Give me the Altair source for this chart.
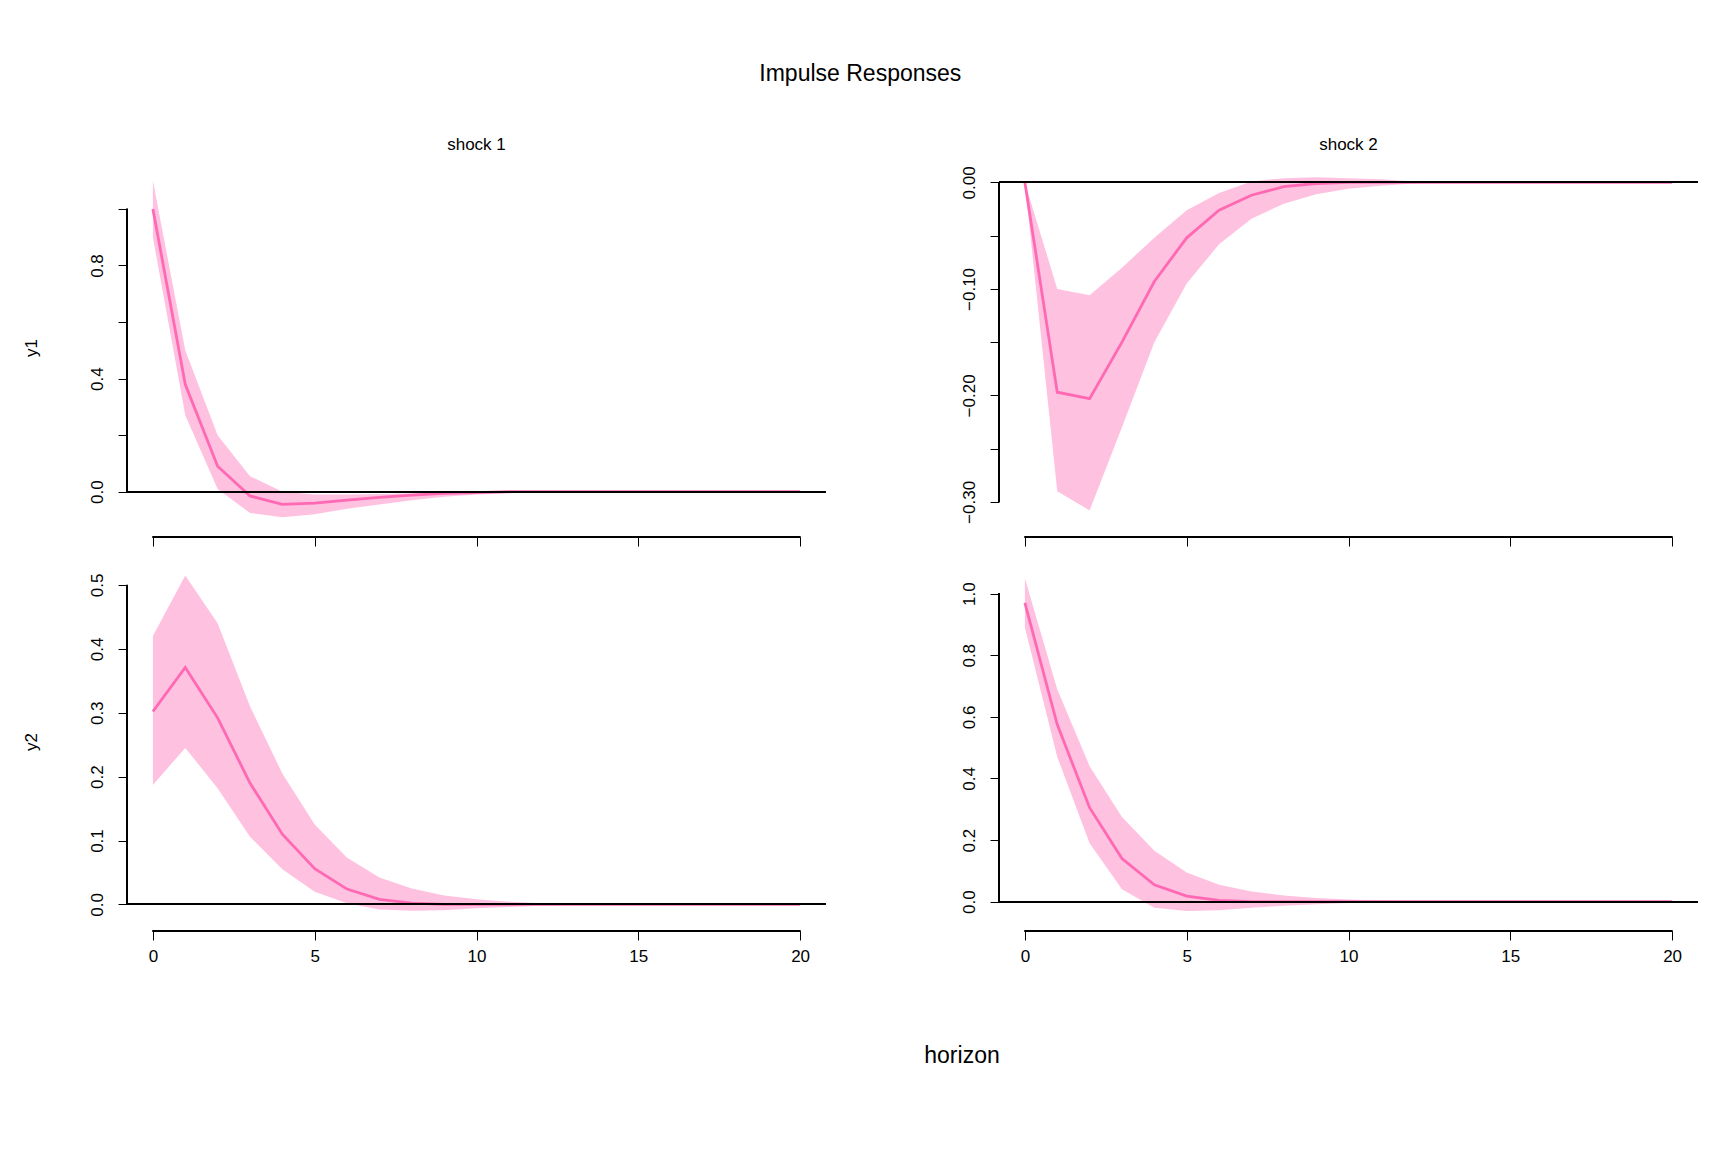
import altair as alt
import pandas as pd

H = list(range(21))

# response of y1 to shock 1
y1s1_med = [1.0, 0.38, 0.09, -0.015, -0.045, -0.04, -0.03, -0.02, -0.012, -0.006, -0.003] + [0.0] * 10
y1s1_hi = [1.1, 0.5, 0.2, 0.055, 0.0, -0.01, -0.01, -0.008, -0.005, -0.002] + [0.0] * 11
y1s1_lo = [0.9, 0.27, 0.01, -0.075, -0.09, -0.08, -0.06, -0.045, -0.03, -0.018, -0.01, -0.005, -0.002] + [0.0] * 8

# response of y1 to shock 2
y1s2_med = [0.0, -0.197, -0.203, -0.15, -0.093, -0.052, -0.026, -0.012, -0.004, -0.001] + [0.0] * 11
y1s2_hi = [0.0, -0.1, -0.106, -0.08, -0.052, -0.026, -0.01, 0.001, 0.004, 0.005, 0.004, 0.003, 0.001] + [0.0] * 8
y1s2_lo = [0.0, -0.29, -0.308, -0.23, -0.15, -0.095, -0.058, -0.034, -0.02, -0.011, -0.006, -0.003, -0.001] + [0.0] * 8

# response of y2 to shock 1
y2s1_med = [0.302, 0.371, 0.292, 0.19, 0.11, 0.056, 0.024, 0.008, 0.002] + [0.0] * 12
y2s1_hi = [0.42, 0.515, 0.44, 0.31, 0.205, 0.125, 0.073, 0.042, 0.025, 0.014, 0.008, 0.004, 0.002, 0.001] + [0.0] * 7
y2s1_lo = [0.187, 0.245, 0.182, 0.106, 0.055, 0.02, 0.002, -0.008, -0.01, -0.009, -0.006, -0.004, -0.002, -0.001] + [0.0] * 7

# response of y2 to shock 2
y2s2_med = [0.97, 0.575, 0.305, 0.14, 0.055, 0.018, 0.004] + [0.0] * 14
y2s2_hi = [1.05, 0.69, 0.44, 0.275, 0.165, 0.095, 0.055, 0.033, 0.02, 0.012, 0.007, 0.004, 0.002, 0.001] + [0.0] * 7
y2s2_lo = [0.89, 0.47, 0.19, 0.04, -0.02, -0.03, -0.028, -0.02, -0.013, -0.008, -0.004, -0.002, -0.001] + [0.0] * 8

BAND = "#FFC1E0"
LINE = "#FF69B4"
W, HT = 699, 345
SP = 133
FONT = "Liberation Sans"


def panel(med, lo, hi, domain, ticks, labelled, fmt, title=None, ytitle=None, xlabels=True):
    df = pd.DataFrame({"h": H, "med": med, "lo": lo, "hi": hi})
    base = alt.Chart(df)
    lab_expr = ("indexof(" + str(labelled) + ", datum.value) >= 0 ? format(datum.value, '"
                + fmt + "') : ''")
    x = alt.X("h:Q", scale=alt.Scale(domain=[-0.8, 20.8], nice=False, zero=False),
              axis=alt.Axis(values=[0, 5, 10, 15, 20], grid=False, domain=False, offset=17,
                            tickSize=9, tickColor="black", labels=xlabels, labelFontSize=17,
                            labelPadding=8, title=None, labelColor="black"))
    y = alt.Y("lo:Q", scale=alt.Scale(domain=domain, nice=False, zero=False),
              axis=alt.Axis(values=ticks, grid=False, domain=False, tickSize=9, tickColor="black",
                            labelAngle=-90, labelAlign="center", labelBaseline="bottom",
                            labelFontSize=17, labelPadding=12, labelExpr=lab_expr,
                            labelColor="black", title=ytitle or "", titleFontSize=17,
                            titleFontWeight="normal", titlePadding=48, titleColor="black"))
    band = base.mark_area(color=BAND).encode(x=x, y=y, y2="hi:Q")
    line = base.mark_line(color=LINE, strokeWidth=2.8).encode(x="h:Q", y="med:Q")
    zero = base.mark_rule(color="black", strokeWidth=1.3).encode(
        y=alt.datum(0), x=alt.value(0), x2=alt.value(W))
    yax = base.mark_rule(color="black").encode(
        x=alt.value(0), y=alt.datum(min(ticks)), y2=alt.datum(max(ticks)))
    xax = base.mark_rule(color="black").encode(
        x=alt.datum(0), x2=alt.datum(20), y=alt.value(HT + 17))
    layers = [band, line, zero, yax, xax]
    if title:
        head = alt.Chart(pd.DataFrame({"t": [title]})).mark_text(
            fontSize=17, color="black").encode(text="t:N", x=alt.value(W / 2), y=alt.value(-30))
        layers.append(head)
    return alt.layer(*layers).properties(width=W, height=HT)


p11 = panel(y1s1_med, y1s1_lo, y1s1_hi, [-0.1, 1.12], [0, 0.2, 0.4, 0.6, 0.8, 1.0],
            [0, 0.4, 0.8], ".1f", title="shock 1", ytitle="y1", xlabels=False)
p12 = panel(y1s2_med, y1s2_lo, y1s2_hi, [-0.317, 0.007],
            [0, -0.05, -0.1, -0.15, -0.2, -0.25, -0.3], [0, -0.1, -0.2, -0.3], ".2f",
            title="shock 2", xlabels=False)
p21 = panel(y2s1_med, y2s1_lo, y2s1_hi, [-0.015, 0.525], [0, 0.1, 0.2, 0.3, 0.4, 0.5],
            [0, 0.1, 0.2, 0.3, 0.4, 0.5], ".1f", ytitle="y2")
p22 = panel(y2s2_med, y2s2_lo, y2s2_hi, [-0.04, 1.08], [0, 0.2, 0.4, 0.6, 0.8, 1.0],
            [0, 0.2, 0.4, 0.6, 0.8, 1.0], ".1f")

xlab = alt.Chart(pd.DataFrame({"t": ["horizon"]})).mark_text(
    fontSize=23, color="black").encode(text="t:N", x=alt.value(835), y=alt.value(70)).properties(
    width=1500, height=90)

chart = alt.vconcat(
    alt.hconcat(p11, p12, spacing=SP),
    alt.hconcat(p21, p22, spacing=SP),
    xlab,
    spacing=22,
).properties(
    title=alt.TitleParams("Impulse Responses", fontSize=23, fontWeight="normal",
                          anchor="middle", offset=50),
    padding={"top": 55, "left": 14, "right": 5, "bottom": 5},
).configure(font=FONT).configure_view(stroke=None).configure_title(color="black")

chart.save("out.html", embed_options={"renderer": "svg", "actions": False})
